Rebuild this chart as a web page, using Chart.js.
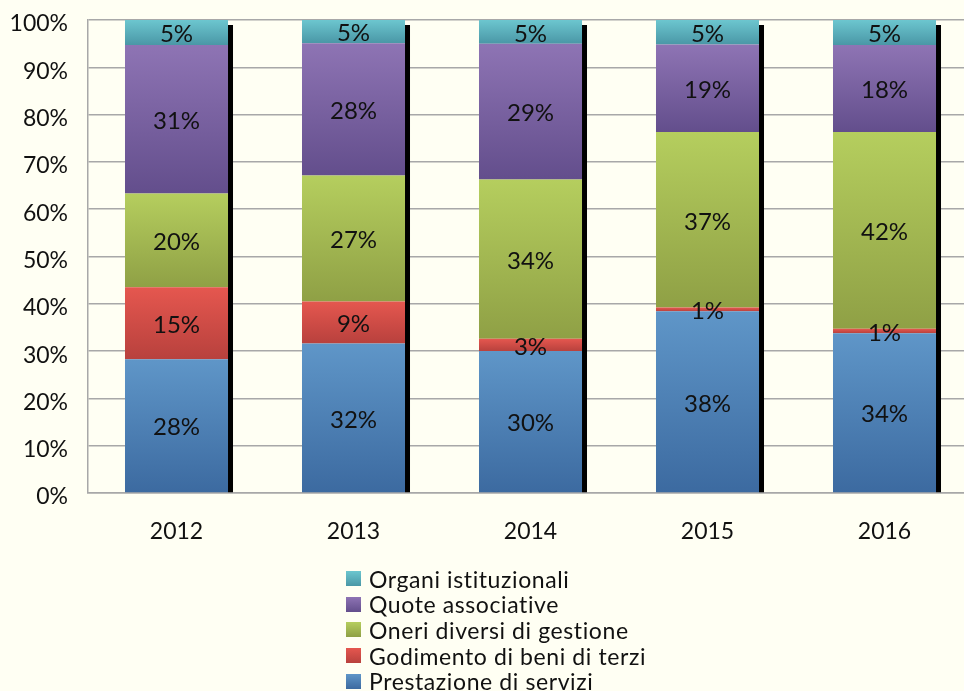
<!DOCTYPE html>
<html>
<head>
<meta charset="utf-8">
<script src="https://cdn.jsdelivr.net/npm/chart.js@4/dist/chart.umd.min.js"></script>
<style>
  html, body { margin: 0; padding: 0; background: #FFFFF3; overflow: hidden; width: 964px; height: 691px; }
  #wrap { position: relative; width: 975px; height: 691px; }
  #legend { position: absolute; left: 346px; top: 566px; font-family: Lato, sans-serif; font-size: 23px; color: #111; letter-spacing: 0.6px; }
  .row { display: flex; align-items: center; height: 25.6px; white-space: nowrap; }
  .mk { width: 15px; height: 15px; margin-right: 8px; flex: none; }
</style>
</head>
<body>
<div id="wrap">
  <canvas id="c" width="975" height="691"></canvas>
  <div id="legend"></div>
</div>
<script>
const years = ['2012', '2013', '2014', '2015', '2016'];
const prestazioneServizi = [28.3, 31.6, 30.0, 38.4, 33.8];
const godimentoBeniTerzi = [15.2, 8.9, 2.6, 0.8, 0.9];
const oneriDiversiGestione = [19.8, 26.6, 33.7, 37.1, 41.6];
const quoteAssociative = [31.4, 28.0, 28.7, 18.5, 18.4];
const organiIstituzionali = [5.3, 4.9, 5.0, 5.2, 5.3];
const yTickValues = [0, 10, 20, 30, 40, 50, 60, 70, 80, 90, 100];

const seriesNames = ['Prestazione di servizi', 'Godimento di beni di terzi', 'Oneri diversi di gestione', 'Quote associative', 'Organi istituzionali'];
const seriesData = [prestazioneServizi, godimentoBeniTerzi, oneriDiversiGestione, quoteAssociative, organiIstituzionali];
const colorTop = ['#5F96C8', '#E5574F', '#B5CE5E', '#8E74B4', '#6CC6CF'];
const colorBottom = ['#3C6AA0', '#B8413D', '#8FA045', '#634E8C', '#4A97A6'];

function grad(top, bot) {
  return (c) => {
    const chart = c.chart;
    const y = chart.scales && chart.scales.y;
    if (!y || c.type !== 'data' || !chart.chartArea) return top;
    const di = c.datasetIndex, i = c.dataIndex;
    let start = 0;
    for (let k = 0; k < di; k++) start += chart.data.datasets[k].data[i];
    const end = start + chart.data.datasets[di].data[i];
    const yt = y.getPixelForValue(end), yb = y.getPixelForValue(start);
    if (!isFinite(yt) || !isFinite(yb) || Math.abs(yb - yt) < 0.5) return top;
    const g = chart.ctx.createLinearGradient(0, yt, 0, yb);
    g.addColorStop(0, top);
    g.addColorStop(1, bot);
    return g;
  };
}

const shadowPlugin = {
  id: 'shadow',
  beforeDatasetsDraw(chart) {
    const ctx = chart.ctx;
    const n = chart.data.datasets.length;
    const first = chart.getDatasetMeta(0).data;
    const last = chart.getDatasetMeta(n - 1).data;
    ctx.save();
    ctx.fillStyle = '#000';
    first.forEach((el, i) => {
      const top = last[i].y;
      const base = el.base;
      const right = el.x + el.width / 2;
      ctx.fillRect(right, top + 5, 5, base - top - 5);
    });
    ctx.restore();
  }
};

const labelPlugin = {
  id: 'labels',
  afterDatasetsDraw(chart) {
    const ctx = chart.ctx;
    ctx.save();
    ctx.font = '24px Lato, sans-serif';
    ctx.fillStyle = '#111';
    ctx.textAlign = 'center';
    ctx.textBaseline = 'middle';
    chart.data.datasets.forEach((ds, di) => {
      chart.getDatasetMeta(di).data.forEach((el, i) => {
        const v = ds.data[i];
        ctx.fillText(Math.round(v) + '%', el.x, (el.y + el.base) / 2 + 2);
      });
    });
    ctx.restore();
  }
};

const chart = new Chart(document.getElementById('c'), {
  type: 'bar',
  data: {
    labels: years,
    datasets: seriesNames.map((name, k) => ({
      label: name,
      data: seriesData[k],
      backgroundColor: grad(colorTop[k], colorBottom[k]),
      borderWidth: 0,
      barPercentage: 0.582,
      categoryPercentage: 1.0
    }))
  },
  options: {
    responsive: false,
    devicePixelRatio: 1,
    animation: false,
    layout: { padding: { top: 20, right: 2, bottom: 138, left: 0 } },
    plugins: { legend: { display: false }, tooltip: { enabled: false } },
    scales: {
      x: {
        stacked: true,
        grid: { display: false, drawTicks: false },
        border: { display: true, color: '#A8A8A8', width: 1.5 },
        ticks: { padding: 25, color: '#111', font: { family: 'Lato', size: 23 } },
        afterFit(s) { s.height = 60; s.paddingLeft = 0; s.paddingRight = 0; }
      },
      y: {
        stacked: true,
        min: 0, max: 100,
        afterBuildTicks(s) { s.ticks = yTickValues.map(v => ({ value: v })); },
        grid: { color: '#A8A8A8', lineWidth: 1.5, drawTicks: false },
        border: { display: true, color: '#A8A8A8', width: 1.5 },
        ticks: { padding: 20, labelOffset: 4, color: '#111', font: { family: 'Lato', size: 23 }, callback: v => v + '%' },
        afterFit(s) { s.width = 88; s.paddingTop = 0; s.paddingBottom = 0; }
      }
    }
  },
  plugins: [shadowPlugin, labelPlugin]
});

const legend = document.getElementById('legend');
for (let k = seriesNames.length - 1; k >= 0; k--) {
  const row = document.createElement('div');
  row.className = 'row';
  const mk = document.createElement('span');
  mk.className = 'mk';
  mk.style.background = 'linear-gradient(' + colorTop[k] + ',' + colorBottom[k] + ')';
  const t = document.createElement('span');
  t.textContent = chart.data.datasets[k].label;
  row.appendChild(mk);
  row.appendChild(t);
  legend.appendChild(row);
}
</script>
</body>
</html>
